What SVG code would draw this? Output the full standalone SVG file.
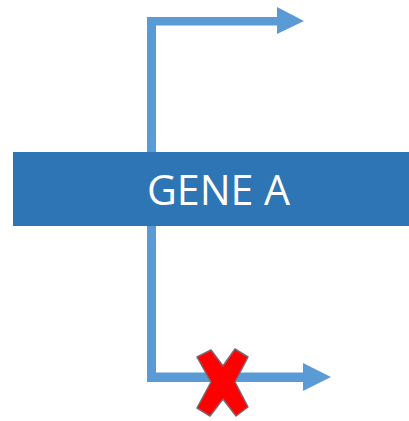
<svg xmlns="http://www.w3.org/2000/svg" width="409" height="421" viewBox="0 0 409 421">
<style>
.ln{fill:#5B9BD5;stroke:none}
.lbl{font-family:"Open Sans","Liberation Sans",sans-serif;font-size:42px;fill:#FFFFFF}
</style>
<rect width="409" height="421" fill="#FFFFFF"/>
<g id="connectors">
<g id="top-arrow">
<rect class="ln" x="147" y="17" width="9" height="136"/>
<rect class="ln" x="147" y="17" width="132" height="8.5"/>
<polygon class="ln" points="277,7 304,21 277,34"/>
</g>
<g id="bottom-arrow">
<rect class="ln" x="147" y="225" width="9" height="157"/>
<rect class="ln" x="147" y="372.5" width="158" height="9.5"/>
<polygon class="ln" points="303,363 331,377 303,391"/>
</g>
</g>
<g id="gene-a">
<rect x="13" y="152" width="396" height="74" fill="#2E75B6"/>
<text class="lbl" x="147" y="205" textLength="143" lengthAdjust="spacingAndGlyphs">GENE A</text>
</g>
<g id="block-x">
<polygon points="197,357 211,350 223,366 235,349 248,357 235,382 248,407 236,416 223,399 210,416 197,408 211,382" fill="#FF0000" stroke="#7E6470" stroke-width="1.5" stroke-linejoin="round"/>
</g>
</svg>
